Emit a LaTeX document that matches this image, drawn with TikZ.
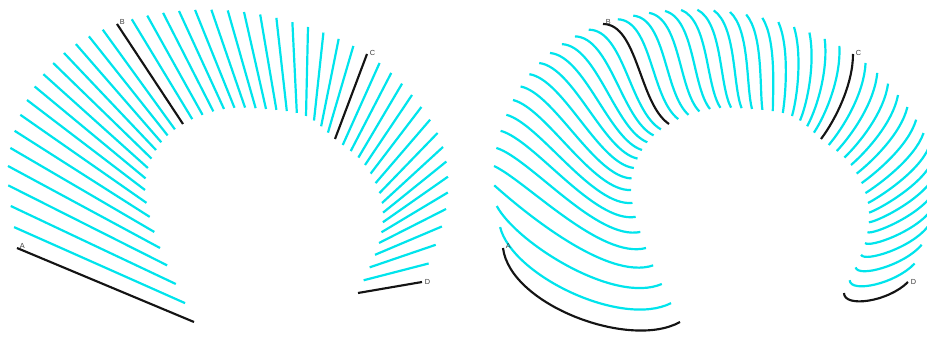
\documentclass[tikz,border=0pt]{standalone}
\usepackage{fontspec}
\setsansfont{Liberation Sans}
\usetikzlibrary{calc}
\definecolor{fib}{RGB}{0,228,236}
\definecolor{keyc}{RGB}{20,20,20}
\definecolor{lblc}{RGB}{60,60,60}
\tikzset{
  fibre/.style={draw=fib,line width=1.65pt},
  keyline/.style={draw=keyc,line width=1.6pt},
  lbl/.style={font=\sffamily\fontsize{5.5}{6}\selectfont,text=lblc,inner sep=0pt,anchor=west}
}
% key data (pixel units, y downwards), every 4th line, padded with phantom end points
\def\OXa{{26,17,8,27,64,117,179,244,308,367,412,443,446,422,398}}
\def\OYa{{330,248,166,100,53,24,11,12,27,54,95,147,209,282,355}}
\def\IXa{{228,194,160,145,156,183,224,266,306,335,365,382,379,358,337}}
\def\IYa{{396,322,248,190,150,124,109,109,116,139,165,203,243,293,343}}
% start and end tangent offsets of the curves (right panel)
\def\UXa{{7,7,32,33,35,35,30,20,8,0,-5,-10,-15,-20,-20}}
\def\UYa{{57,57,15,8,3,0,8,18,26,30,28,25,22,20,20}}
\def\VXa{{-50,-50,-45,-38,-33,-30,-18,-6,6,15,14,10,5,0,0}}
\def\VYa{{28,28,12,2,-10,-20,-22,-22,-21,-20,-12,-5,5,15,15}}
\newcommand\crv[2]{%
  \pgfmathsetmacro\cra{#2[\ka]}%
  \pgfmathsetmacro\crb{#2[\kb]}%
  \pgfmathsetmacro\crc{#2[\kc]}%
  \pgfmathsetmacro\crd{#2[\kd]}%
  \pgfmathsetmacro#1{0.5*(2*(\crb)+((\crc)-(\cra))*\tpar+(2*(\cra)-5*(\crb)+4*(\crc)-(\crd))*\tpar*\tpar+(3*(\crb)-(\cra)-3*(\crc)+(\crd))*\tpar*\tpar*\tpar)}%
}
\newcommand\setidx[2]{% #1 = keys step, #2 = max segment
  \pgfmathtruncatemacro\ka{floor(\i/#1)}%
  \pgfmathtruncatemacro\ka{min(\ka,#2)}%
  \pgfmathsetmacro\tpar{(\i-#1*\ka)/#1}%
  \pgfmathtruncatemacro\kb{\ka+1}%
  \pgfmathtruncatemacro\kc{\ka+2}%
  \pgfmathtruncatemacro\kd{\ka+3}%
}
\begin{document}
\begin{tikzpicture}[x=0.75pt,y=-0.75pt]
\useasboundingbox (0,0) rectangle (927,341);
\clip (0,0) rectangle (927,341);
\foreach \i in {0,...,48}{
  \setidx{4}{11}
  \crv\px\OXa \crv\py\OYa \crv\qx\IXa \crv\qy\IYa
  \crv\ux\UXa \crv\uy\UYa \crv\vx\VXa \crv\vy\VYa
  \pgfmathtruncatemacro\mm{mod(\i,16)}
  \ifnum\mm=0 \def\sty{keyline}\else\def\sty{fibre}\fi
  \coordinate (lo\i) at (\px,\py);
  \coordinate (li\i) at (\qx,\qy);
  \coordinate (ro\i) at (\px+486,\py);
  \coordinate (ri\i) at (\qx+486,\qy);
  \coordinate (rc\i) at (\px+486+\ux,\py+\uy);
  \coordinate (rd\i) at (\qx+486+\vx,\qy+\vy);
  \draw[\sty] (lo\i) -- (li\i);
  \draw[\sty] (ro\i) .. controls (rc\i) and (rd\i) .. (ri\i);
}
\node[lbl] (lA) at ($(lo0)+(2.5,-2.5)$) {A};
\node[lbl] (lB) at ($(lo16)+(2.5,-2)$) {B};
\node[lbl] (lC) at ($(lo32)+(2.5,-1)$) {C};
\node[lbl] (lD) at ($(lo48)+(2.5,0)$) {D};
\node[lbl] (rA) at ($(ro0)+(2.5,-2.5)$) {A};
\node[lbl] (rB) at ($(ro16)+(2.5,-2)$) {B};
\node[lbl] (rC) at ($(ro32)+(2.5,-1)$) {C};
\node[lbl] (rD) at ($(ro48)+(2.5,0)$) {D};
\end{tikzpicture}
\end{document}
